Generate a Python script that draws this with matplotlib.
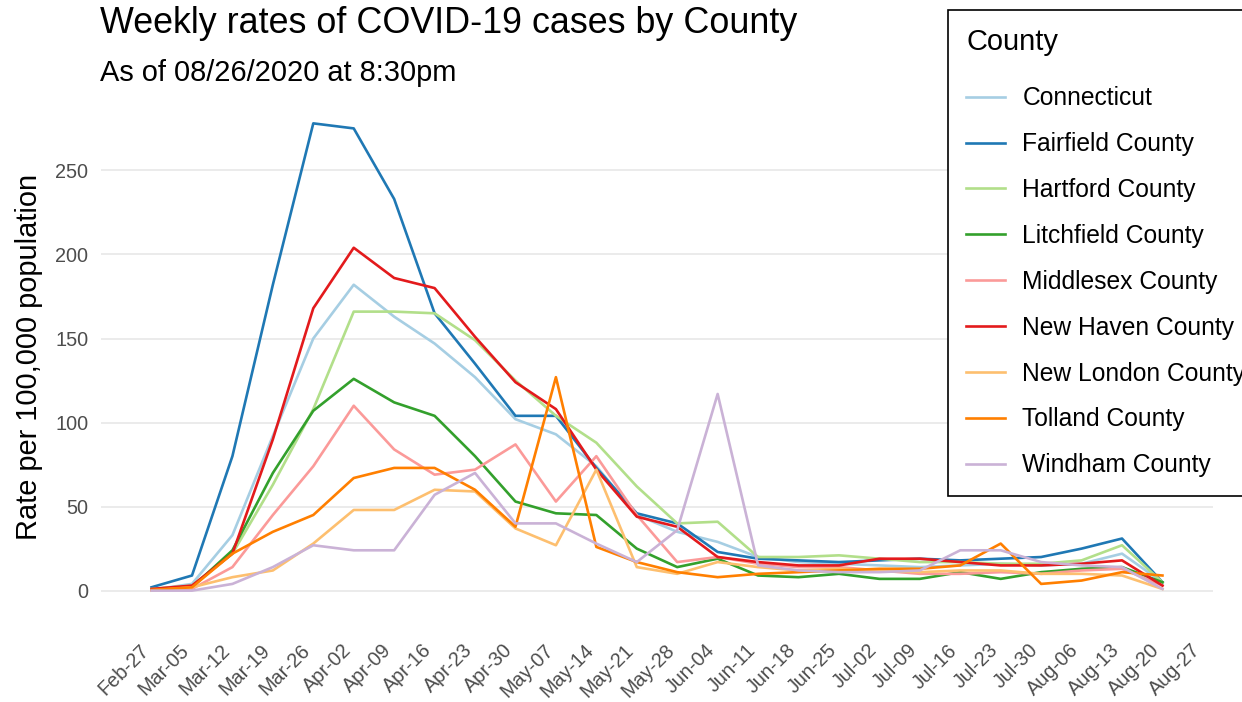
import numpy as np
import pandas as pd
import matplotlib.pyplot as plt
import matplotlib.dates as mdates

plt.rcParams['font.family'] = ['Liberation Sans', 'DejaVu Sans']

# weekly data points and axis ticks
dates = pd.date_range("2020-02-28", periods=26, freq="7D")
tick_dates = pd.date_range("2020-02-27", "2020-08-27", freq="7D")

counties = ["Connecticut", "Fairfield County", "Hartford County", "Litchfield County",
            "Middlesex County", "New Haven County", "New London County",
            "Tolland County", "Windham County"]

connecticut = [0.5, 4, 33, 92, 150, 182, 163, 147, 127, 102, 93, 74, 45, 35, 29, 20, 17, 16, 15, 14, 15, 16, 15, 16, 22, 5]
fairfield = [2, 9, 80, 182, 278, 275, 233, 165, 135, 104, 104, 73, 46, 40, 23, 19, 18, 17, 18, 19, 18, 19, 20, 25, 31, 5]
hartford = [1, 3, 22, 63, 108, 166, 166, 165, 149, 125, 104, 88, 62, 40, 41, 20, 20, 21, 19, 17, 17, 16, 16, 18, 27, 5]
litchfield = [0.5, 2, 24, 70, 107, 126, 112, 104, 80, 53, 46, 45, 25, 14, 19, 9, 8, 10, 7, 7, 11, 7, 11, 13, 14, 5]
middlesex = [0.5, 1, 14, 45, 74, 110, 84, 69, 72, 87, 53, 80, 45, 17, 20, 16, 14, 14, 12, 10, 10, 11, 10, 12, 13, 3]
new_haven = [1, 3, 22, 90, 168, 204, 186, 180, 151, 124, 108, 72, 44, 38, 20, 17, 15, 15, 19, 19, 17, 15, 15, 16, 18, 3]
new_london = [0, 2, 8, 12, 28, 48, 48, 60, 59, 37, 27, 72, 14, 10, 17, 14, 12, 13, 12, 11, 12, 12, 10, 10, 9, 1]
tolland = [0.5, 2, 22, 35, 45, 67, 73, 73, 60, 38, 127, 26, 17, 11, 8, 10, 11, 12, 13, 13, 15, 28, 4, 6, 11, 9]
windham = [0, 0, 4, 14, 27, 24, 24, 57, 70, 40, 40, 28, 17, 36, 117, 15, 12, 11, 11, 12, 24, 24, 17, 15, 14, 1]

series = [connecticut, fairfield, hartford, litchfield, middlesex,
          new_haven, new_london, tolland, windham]
colors = ["#A6CEE3", "#1F78B4", "#B2DF8A", "#33A02C", "#FB9A99",
          "#E31A1C", "#FDBF6F", "#FF7F00", "#CAB2D6"]

fig = plt.figure(figsize=(12.42, 7.02), dpi=100)
ax = fig.add_axes([101 / 1242, 1 - 614 / 702, (1213 - 101) / 1242, (614 - 100) / 702])

for name, vals, c in zip(counties, series, colors):
    ax.plot(dates, vals, color=c, lw=1.9, label=name)

ax.set_xticks(tick_dates)
ax.xaxis.set_major_formatter(mdates.DateFormatter("%b-%d"))
plt.setp(ax.get_xticklabels(), rotation=45, ha="right", va="center", rotation_mode="anchor")
ax.set_yticks([0, 50, 100, 150, 200, 250])
ax.tick_params(axis="x", length=0, pad=24, labelsize=14.3, labelcolor="#4D4D4D")
ax.tick_params(axis="y", length=0, pad=9, labelsize=14.3, labelcolor="#4D4D4D")
ax.grid(axis="y", color="#EBEBEB", lw=1.4)
ax.set_axisbelow(True)
for s in ax.spines.values():
    s.set_visible(False)

fig.text(100 / 1242, 1 - 33 / 702, "Weekly rates of COVID-19 cases by County",
         fontsize=25.8, va="baseline", ha="left")
fig.text(100 / 1242, 1 - 81 / 702, "As of 08/26/2020 at 8:30pm",
         fontsize=20.9, va="baseline", ha="left")
fig.text(29 / 1242, 1 - 357 / 702, "Rate per 100,000 population",
         fontsize=20.9, rotation=90, va="center", ha="center")

leg = ax.legend(title="County", loc="upper left",
                bbox_to_anchor=(948 / 1242, 1 - 10 / 702), bbox_transform=fig.transFigure,
                borderaxespad=0, fontsize=17.7, title_fontsize=20.9, fancybox=False,
                edgecolor="black", framealpha=1, handlelength=1.55, handletextpad=0.73,
                labelspacing=0.89, borderpad=0.75, alignment="left")
leg.get_frame().set_linewidth(1.2)
# a bit more room between the legend title and the first entry
leg._legend_box.sep = 21.5

fig.savefig("out.png", dpi=100)
